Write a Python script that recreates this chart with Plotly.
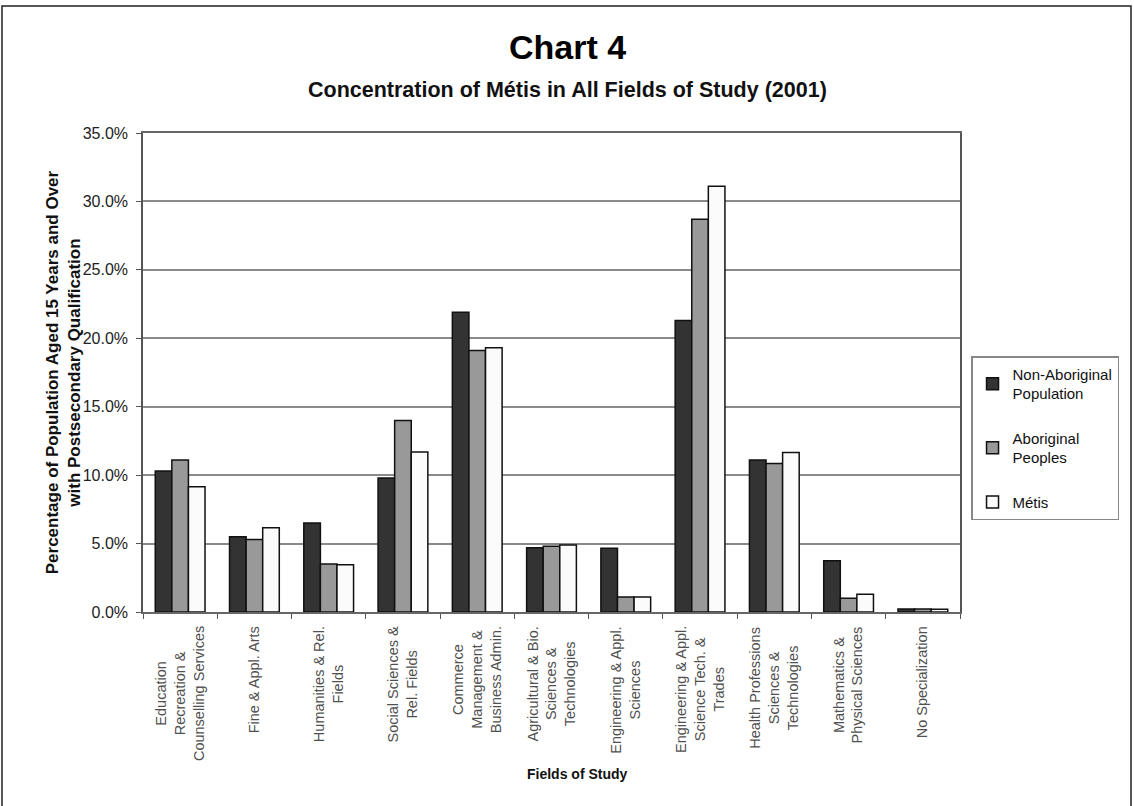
import plotly.graph_objects as go

# Fields of study (category axis); line breaks follow the printed wrapping
fields = [
    "Education<br>Recreation &<br>Counselling Services",
    "Fine & Appl. Arts",
    "Humanities & Rel.<br>Fields",
    "Social Sciences &<br>Rel. Fields",
    "Commerce<br>Management &<br>Business Admin.",
    "Agricultural & Bio.<br>Sciences &<br>Technologies",
    "Engineering & Appl.<br>Sciences",
    "Engineering & Appl.<br>Science Tech. &<br>Trades",
    "Health Professions<br>Sciences &<br>Technologies",
    "Mathematics &<br>Physical Sciences",
    "No Specialization",
]

# Share of population aged 15+ with postsecondary qualification (%)
non_aboriginal = [10.3, 5.5, 6.5, 9.8, 21.9, 4.7, 4.65, 21.3, 11.1, 3.75, 0.22]
aboriginal = [11.1, 5.3, 3.5, 14.0, 19.1, 4.8, 1.1, 28.7, 10.85, 1.0, 0.22]
metis = [9.15, 6.15, 3.45, 11.7, 19.3, 4.9, 1.1, 31.1, 11.65, 1.3, 0.2]

series_names = ["Non-Aboriginal<br>Population", "Aboriginal<br>Peoples", "Métis"]
series_colors = ["#333333", "#999999", "#fbfbfb"]

y_ticks = [0, 5, 10, 15, 20, 25, 30, 35]
y_tick_text = [f"{v:.1f}%" for v in y_ticks]

FONT = "Liberation Sans, Arial, sans-serif"

fig = go.Figure()
for name, vals, col in zip(series_names, [non_aboriginal, aboriginal, metis], series_colors):
    fig.add_trace(go.Bar(
        x=fields, y=vals, name=name, legendgroup=name,
        marker=dict(color=col, line=dict(color="#111111", width=1.5)),
    ))

# Category labels, rotated with their lines centred on each other
for f in fields:
    fig.add_annotation(
        x=f, xref="x", y=-0.026, yref="paper",
        text=f, textangle=-90, align="center",
        xanchor="center", yanchor="top", showarrow=False,
        font=dict(family=FONT, size=14.5, color="#505050"),
    )

# Y axis title (two centred lines)
fig.add_annotation(
    x=-0.097, xref="paper", y=0.5, yref="paper",
    text="<b>Percentage of Population Aged 15 Years and Over<br>with Postsecondary Qualification</b>",
    textangle=-90, align="center", xanchor="center", yanchor="middle",
    showarrow=False, font=dict(family=FONT, size=17, color="#111111"),
)

# X axis title
fig.add_annotation(
    x=0.532, xref="paper", y=-0.338, yref="paper",
    text="<b>Fields of Study</b>", showarrow=False,
    xanchor="center", yanchor="middle",
    font=dict(family=FONT, size=14, color="#111111"),
)

# Main title and subtitle
fig.add_annotation(
    x=0.52, xref="paper", y=1.18, yref="paper",
    text="<b>Chart 4</b>", showarrow=False, xanchor="center", yanchor="middle",
    font=dict(family=FONT, size=34, color="#000000"),
)
fig.add_annotation(
    x=0.519, xref="paper", y=1.09, yref="paper",
    text="<b>Concentration of Métis in All Fields of Study (2001)</b>",
    showarrow=False, xanchor="center", yanchor="middle",
    font=dict(family=FONT, size=21.5, color="#111111"),
)

# Outer frame around the whole chart
fig.add_shape(
    type="rect", xref="paper", yref="paper",
    x0=-0.1726, x1=1.2093, y0=-0.45, y1=1.2651,
    line=dict(color="#222222", width=1.5), fillcolor="rgba(0,0,0,0)", layer="below",
)

fig.update_layout(
    width=1134, height=806,
    margin=dict(l=143, r=174, t=133, b=194, autoexpand=False),
    paper_bgcolor="white", plot_bgcolor="white",
    barmode="group", bargap=0.33, bargroupgap=0.0,
    font=dict(family=FONT, size=14, color="#222222"),
    showlegend=True,
    legend=dict(
        x=1.0135, xanchor="left", y=0.534, yanchor="top",
        bordercolor="#888888", borderwidth=1.5, bgcolor="white",
        font=dict(family=FONT, size=15, color="#111111"),
        traceorder="grouped", tracegroupgap=22,
        itemwidth=30,
    ),
    xaxis=dict(
        type="category", showticklabels=False,
        ticks="outside", tickson="boundaries", ticklen=5, tickcolor="#555555",
        showline=True, linecolor="#666666", linewidth=1.5, mirror=True,
        showgrid=False,
    ),
    yaxis=dict(
        range=[0, 35], tickvals=y_ticks, ticktext=y_tick_text,
        ticks="outside", ticklen=5, tickcolor="#555555",
        ticklabelstandoff=5,
        showline=True, linecolor="#555555", linewidth=1.5, mirror=True,
        showgrid=True, gridcolor="#8a8a8a", gridwidth=1.5,
        zeroline=False,
        tickfont=dict(family=FONT, size=16, color="#222222"),
    ),
)

fig.write_html("out.html")
